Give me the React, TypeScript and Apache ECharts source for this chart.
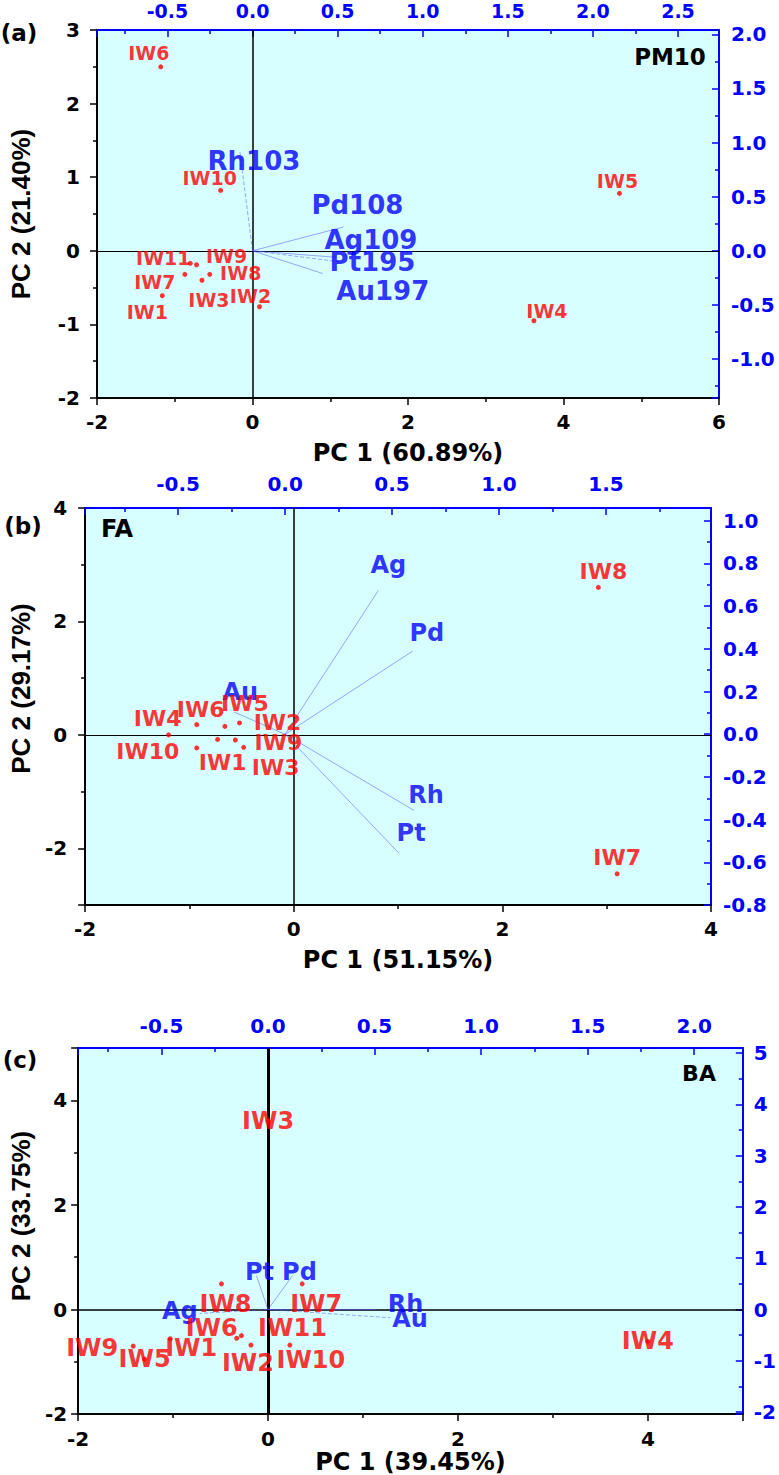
import React, { useEffect, useRef } from 'react';
import * as echarts from 'echarts';

// ---------- Panel (a) PM10 ----------
const samplesA = ['IW1', 'IW2', 'IW3', 'IW4', 'IW5', 'IW6', 'IW7', 'IW8', 'IW9', 'IW10', 'IW11'];
const pc1A = [-1.16, 0.09, -0.65, 3.62, 4.72, -1.18, -0.87, -0.55, -0.72, -0.41, -0.8];
const pc2A = [-0.61, -0.76, -0.4, -0.95, 0.78, 2.5, -0.32, -0.32, -0.19, 0.82, -0.17];
const elementsA = ['Rh103', 'Pd108', 'Ag109', 'Pt195', 'Au197'];
const load1A = [-0.074, 0.534, 0.49, 0.505, 0.413];
const load2A = [0.91, 0.22, -0.06, -0.1, -0.21];

// ---------- Panel (b) FA ----------
const samplesB = ['IW1', 'IW2', 'IW3', 'IW4', 'IW5', 'IW6', 'IW7', 'IW8', 'IW9', 'IW10'];
const pc1B = [-0.73, -0.52, -0.48, -1.2, -0.66, -0.93, 3.1, 2.92, -0.56, -0.93];
const pc2B = [-0.08, 0.21, -0.22, 0.0, 0.15, 0.18, -2.45, 2.6, -0.09, -0.23];
const elementsB = ['Ag', 'Pd', 'Au', 'Rh', 'Pt'];
const load1B = [0.436, 0.597, -0.238, 0.603, 0.533];
const load2B = [0.674, 0.39, 0.104, -0.357, -0.558];

// ---------- Panel (c) BA ----------
const samplesC = ['IW1', 'IW2', 'IW3', 'IW4', 'IW5', 'IW6', 'IW7', 'IW8', 'IW9', 'IW10', 'IW11'];
const pc1C = [-1.03, -0.18, 0.0, 4.0, -1.3, -0.33, 0.36, -0.49, -1.42, 0.23, -0.28];
const pc2C = [-0.56, -0.68, 3.6, -0.61, -0.95, -0.55, 0.49, 0.49, -0.7, -0.68, -0.5];
const elementsC = ['Pt', 'Pd', 'Ag', 'Rh', 'Au'];
const load1C = [-0.054, 0.115, -0.32, 0.505, 0.573];
const load2C = [0.66, 0.66, -0.077, 0.0, -0.16];

// label placement (pixels, relative to the point)
const offsetsA = [[-15, 16], [-9, -11], [7, 20], [13, -10], [-2, -12], [-12, -14], [-30, 8], [31, -1], [30, -9], [-11, -12], [-27, -5]];
const loadOffsetsA = [[14, 9], [14, -22], [35, -17], [34, 0], [60, 17]];
const offsetsB = [[5, 23], [38, 0], [32, 20], [-11, -16], [20, -23], [4, -15], [0, -16], [5, -16], [43, 3], [-49, 4]];
const loadOffsetsB = [[10, -25], [14, -18], [6, -20], [12, -15], [12, -20]];
const offsetsC = [[21, 9], [-3, 18], [0, 0], [0, 0], [0, 0], [-25, -10], [14, 20], [4, 20], [-41, 2], [21, 15], [51, -8]];
const loadOffsetsC = [[3, -4], [7, -4], [-20, -2], [30, -6], [20, 1]];

const dashedA = [true, false, false, true, false];
const dashedB = [false, false, false, false, false];
const dashedC = [false, false, true, false, true];

const BLUE = '#0000ff';
const LBLUE = '#4d4dff';
const RED = '#ff0000';
const WIDE = '"DejaVu Sans", Verdana, sans-serif';
const ARIAL = '"Liberation Sans", Arial, sans-serif';

const fmt = (step: number, dec: number) => (v: number) => {
  const k = Math.round(v / step);
  if (Math.abs(v - k * step) > step * 1e-4) return '';
  const val = k * step;
  return (Math.abs(val) < 1e-9 ? 0 : val).toFixed(dec);
};

function axis(color: string, inside: boolean, min: number, max: number, step: number, dec: number, margin: number, fontSize: number) {
  return {
    type: 'value',
    min,
    max,
    minInterval: step,
    maxInterval: step,
    splitNumber: Math.round((max - min) / step),
    axisLine: { show: true, onZero: false, lineStyle: { color, width: 2 } },
    axisTick: { show: true, inside, length: 7, lineStyle: { color, width: 1.5 } },
    minorTick: { show: true, splitNumber: 2, length: 4, lineStyle: { color, width: 1.5 } },
    splitLine: { show: false },
    minorSplitLine: { show: false },
    axisLabel: {
      color,
      fontFamily: WIDE,
      fontWeight: 'bold',
      fontSize,
      margin,
      formatter: fmt(step, dec),
      showMinLabel: true,
      showMaxLabel: true,
      hideOverlap: false,
    },
  };
}

interface Panel {
  grid: any;
  x: number[]; y: number[]; x2: number[]; y2: number[];
  xDec: number; yDec: number; x2Dec: number; y2Dec: number;
  xName: string; yName: string; xNameGap: number; yNameGap: number; yShift: number;
  margins: number[]; topFont: number;
  samples: string[]; pc1: number[]; pc2: number[]; offsets: number[][];
  elements: string[]; l1: number[]; l2: number[]; loffsets: number[][]; dashed: boolean[];
  sampleFont: number; loadFont: number; vWidth: number; hWidth: number;
}

const panels: Panel[] = [
  {
    grid: { left: 88, top: 30, width: 631, height: 368 },
    x: [-2, 6, 2], y: [-2, 3, 1], x2: [-0.914, 2.741, 0.5], y2: [-1.36, 2.04, 0.5],
    xDec: 0, yDec: 0, x2Dec: 1, y2Dec: 1,
    xName: 'PC 1 (60.89%)', yName: 'PC 2 (21.40%)', xNameGap: 43, yNameGap: 63, yShift: 0,
    margins: [14, 17, 10, 12], topFont: 19,
    samples: samplesA, pc1: pc1A, pc2: pc2A, offsets: offsetsA,
    elements: elementsA, l1: load1A, l2: load2A, loffsets: loadOffsetsA, dashed: dashedA,
    sampleFont: 19, loadFont: 26, vWidth: 1.5, hWidth: 1.2,
  },
  {
    grid: { left: 82, top: 508, width: 629, height: 397 },
    x: [-2, 4, 2], y: [-3, 4, 2], x2: [-0.935, 1.991, 0.5], y2: [-0.8, 1.06, 0.2],
    xDec: 0, yDec: 0, x2Dec: 1, y2Dec: 1,
    xName: 'PC 1 (51.15%)', yName: 'PC 2 (29.17%)', xNameGap: 43, yNameGap: 42, yShift: 18,
    margins: [14, 18, 14, 12], topFont: 20,
    samples: samplesB, pc1: pc1B, pc2: pc2B, offsets: offsetsB,
    elements: elementsB, l1: load1B, l2: load2B, loffsets: loadOffsetsB, dashed: dashedB,
    sampleFont: 22, loadFont: 24, vWidth: 1.5, hWidth: 1.2,
  },
  {
    grid: { left: 66, top: 1048, width: 680, height: 369 },
    x: [-2, 5, 2], y: [-2, 5, 2], x2: [-0.891, 2.228, 0.5], y2: [-2.04, 5.1, 1],
    xDec: 0, yDec: 0, x2Dec: 1, y2Dec: 0,
    xName: 'PC 1 (39.45%)', yName: 'PC 2 (33.75%)', xNameGap: 30, yNameGap: 38, yShift: 15,
    margins: [15, 11, 12, 11], topFont: 20,
    samples: samplesC, pc1: pc1C, pc2: pc2C, offsets: offsetsC,
    elements: elementsC, l1: load1C, l2: load2C, loffsets: loadOffsetsC, dashed: dashedC,
    sampleFont: 24, loadFont: 24, vWidth: 3, hWidth: 1.5,
  },
];

function buildOption() {
  const grid: any[] = [];
  const xAxis: any[] = [];
  const yAxis: any[] = [];
  const series: any[] = [];

  panels.forEach((p, i) => {
    grid.push({ ...p.grid, show: true, backgroundColor: '#d7ffff', borderWidth: 0, containLabel: false });
    xAxis.push({
      gridIndex: i, position: 'bottom',
      ...axis('#000', false, p.x[0], p.x[1], p.x[2], p.xDec, p.margins[0], 20),
      name: p.xName, nameLocation: 'middle', nameGap: p.xNameGap,
      nameTextStyle: { color: '#000', fontFamily: WIDE, fontWeight: 'bold', fontSize: 24 },
    });
    xAxis.push({
      gridIndex: i, position: 'top',
      ...axis(BLUE, true, p.x2[0], p.x2[1], p.x2[2], p.x2Dec, p.margins[2], p.topFont),
    });
    yAxis.push({
      gridIndex: i, position: 'left',
      ...axis('#000', false, p.y[0], p.y[1], p.y[2], p.yDec, p.margins[1], 20),
      name: p.yName, nameLocation: 'middle', nameGap: p.yNameGap,
      nameTextStyle: {
        color: '#000', fontFamily: ARIAL, fontWeight: 'bold', fontSize: 26,
        padding: [0, 0, 0, p.yShift * 2],
      },
    });
    yAxis.push({
      gridIndex: i, position: 'right',
      ...axis(BLUE, true, p.y2[0], p.y2[1], p.y2[2], p.y2Dec, p.margins[3], 20),
    });

    const xi = 2 * i;
    // loading vectors (secondary axes)
    series.push({
      type: 'lines',
      coordinateSystem: 'cartesian2d',
      xAxisIndex: xi + 1,
      yAxisIndex: xi + 1,
      silent: true,
      z: 3,
      data: p.elements.map((name, k) => ({
        name,
        coords: [[0, 0], [p.l1[k], p.l2[k]]],
        lineStyle: { color: LBLUE, width: 1, type: p.dashed[k] ? [4, 2] : 'solid' },
      })),
    });
    // loading labels
    series.push({
      type: 'scatter',
      xAxisIndex: xi + 1,
      yAxisIndex: xi + 1,
      symbolSize: 1,
      silent: true,
      z: 4,
      itemStyle: { color: 'rgba(0,0,0,0)' },
      label: {
        show: true, position: 'inside', formatter: '{b}',
        color: BLUE, fontFamily: WIDE, fontWeight: 'bold', fontSize: p.loadFont,
        align: 'center', verticalAlign: 'middle',
      },
      data: p.elements.map((name, k) => ({
        name, value: [p.l1[k], p.l2[k]],
        label: { offset: p.loffsets[k] },
      })),
    });
    // scores (primary axes) + zero lines
    series.push({
      type: 'scatter',
      xAxisIndex: xi,
      yAxisIndex: xi,
      symbol: 'circle',
      symbolSize: 5,
      silent: true,
      z: 5,
      itemStyle: { color: RED },
      label: {
        show: true, position: 'inside', formatter: '{b}',
        color: RED, fontFamily: WIDE, fontWeight: 'bold', fontSize: p.sampleFont,
        align: 'center', verticalAlign: 'middle',
      },
      data: p.samples.map((name, k) => ({
        name, value: [p.pc1[k], p.pc2[k]],
        label: { offset: p.offsets[k] },
      })),
      markLine: {
        silent: true,
        symbol: ['none', 'none'],
        label: { show: false },
        z: 2,
        data: [
          { xAxis: 0, lineStyle: { color: '#000', type: 'solid', width: p.vWidth } },
          { yAxis: 0, lineStyle: { color: '#000', type: 'solid', width: p.hWidth } },
        ],
      },
    });
  });

  const tag = (text: string, x: number, y: number, size: number) => ({
    type: 'text', x, y,
    style: { text, fill: '#000', font: `bold ${size}px ${WIDE}`, align: 'center', verticalAlign: 'middle' },
  });

  return {
    animation: false,
    backgroundColor: '#ffffff',
    grid, xAxis, yAxis, series,
    graphic: [
      tag('(a)', 19, 33, 23),
      tag('PM10', 670, 57, 23),
      tag('(b)', 23, 526, 23),
      tag('FA', 117, 529, 24),
      tag('(c)', 20, 1060, 23),
      tag('BA', 699, 1073, 22),
    ],
  };
}

export default function App() {
  const ref = useRef<HTMLDivElement>(null);
  useEffect(() => {
    if (!ref.current) return;
    const chart = echarts.init(ref.current, undefined, { renderer: 'svg' });
    chart.setOption(buildOption() as any);
    return () => chart.dispose();
  }, []);
  return (
    <div
      ref={ref}
      style={{ position: 'absolute', left: 0, top: 0, width: 779, height: 1475, background: '#fff' }}
    />
  );
}
